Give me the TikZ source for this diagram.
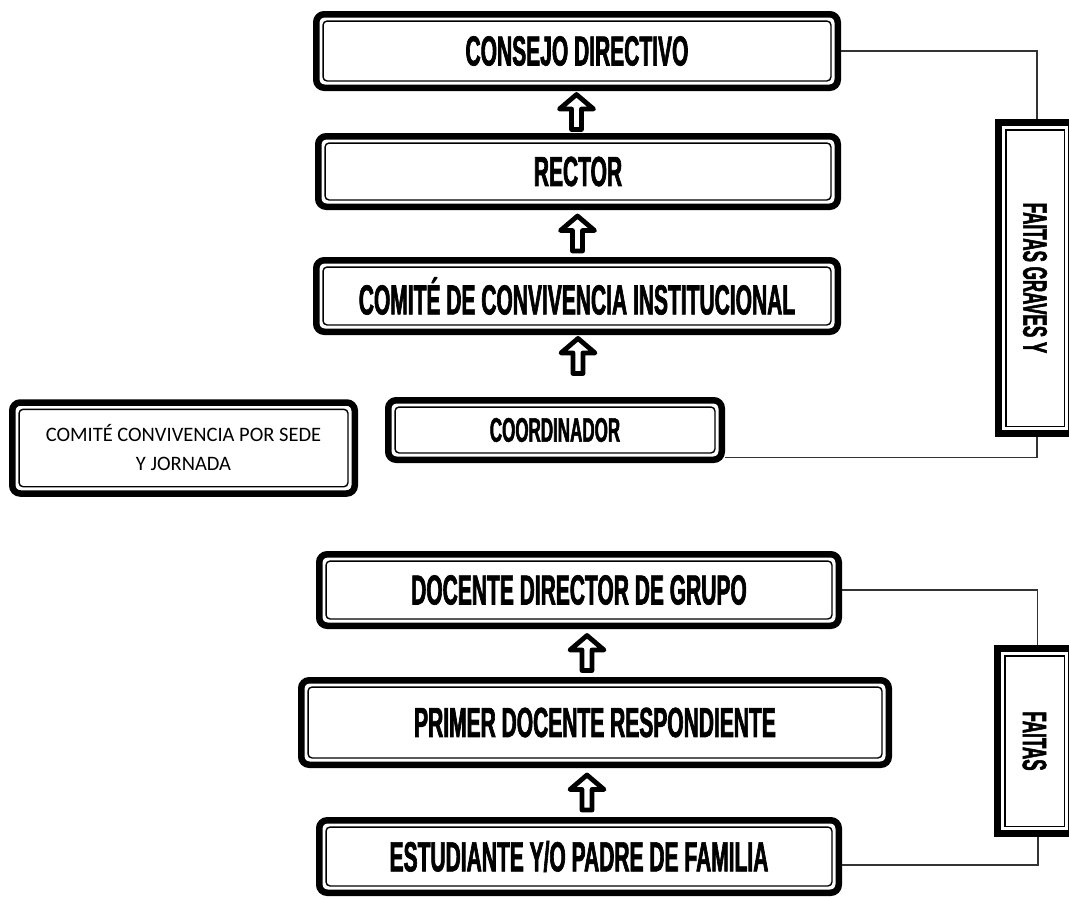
\documentclass[tikz,border=0pt]{standalone}
\usepackage{fontspec}
\usetikzlibrary{calc}
\newfontfamily\agency{Liberation Sans}[FakeStretch=0.5,FakeBold=1.5]
\newfontfamily\calib{Carlito}
\newcommand{\bigtxt}{\agency\bfseries\fontsize{42}{48}\selectfont}
\newcommand{\midtxt}{\agency\bfseries\fontsize{34}{40}\selectfont}
\newcommand{\sidetxt}{\agency\bfseries\fontsize{34}{40}\selectfont}
\begin{document}
\begin{tikzpicture}[x=1pt,y=1pt,
  rbox/.style={draw, line width=6.5pt, rounded corners=8pt, outer sep=0pt, inner sep=0pt, fill=white, align=center, font=\bigtxt},
  sbox/.style={draw, line width=7pt, outer sep=0pt, inner sep=0pt, fill=white},
  innerline/.style={line width=1.4pt, rounded corners=4pt},
  conn/.style={draw=black!80, line width=1.3pt},
  uparrow/.pic={\draw[line width=4.8pt, line join=round, fill=white]
     (0,17.5) -- (17,3) -- (5,3) -- (5,-17.5) -- (-5,-17.5) -- (-5,3) -- (-17,3) -- cycle;}
]
\useasboundingbox (0,0) rectangle (1069,-898);
\fill[white] (0,0) rectangle (1069,-898);

% main boxes
\node[rbox, minimum width=521.5pt, minimum height=73.5pt] (consejo) at (577,-51) {CONSEJO DIRECTIVO};
\node[rbox, minimum width=519.5pt, minimum height=70.5pt] (rector) at (578,-171.5) {RECTOR};
\node[rbox, minimum width=521.5pt, minimum height=71.5pt] (comite) at (577,-296) {COMITÉ DE CONVIVENCIA INSTITUCIONAL};
\node[rbox, minimum width=333.5pt, minimum height=59.5pt, font=\midtxt] (coord) at (555,-430) {COORDINADOR};
\node[rbox, minimum width=342.5pt, minimum height=91pt, font=\calib\fontsize{20.5}{29}\selectfont] (sede) at (183.5,-448) {COMITÉ CONVIVENCIA POR SEDE\\ Y JORNADA};
\node[rbox, minimum width=519.5pt, minimum height=71.5pt] (docente) at (579,-590) {DOCENTE DIRECTOR DE GRUPO};
\node[rbox, minimum width=587.5pt, minimum height=84.5pt] (primer) at (595,-722.5) {PRIMER DOCENTE RESPONDIENTE};
\node[rbox, minimum width=519.5pt, minimum height=72.5pt] (estud) at (579,-856.5) {ESTUDIANTE Y/O PADRE DE FAMILIA};

\foreach \n in {consejo,rector,comite,coord,sede,docente,primer,estud}
  \draw[innerline] ([shift={(6.8,-6.8)}]\n.north west) rectangle ([shift={(-6.8,6.8)}]\n.south east);

% side boxes
\node[sbox, minimum width=73pt, minimum height=311pt] (graves) at (1035,-278) {\rotatebox{-90}{\sidetxt FAITAS GRAVES Y}};
\node[sbox, minimum width=74pt, minimum height=185pt] (faltas) at (1034.5,-741) {\rotatebox{-90}{\sidetxt FAITAS}};
\foreach \n in {graves,faltas}
  \draw[line width=1.4pt] ([shift={(7.3,-7.3)}]\n.north west) rectangle ([shift={(-7.3,7.3)}]\n.south east);

% connectors
\draw[conn] ([xshift=3pt]consejo.east) -| ([xshift=2pt,yshift=3.5pt]graves.north);
\draw[conn] ([shift={(3pt,2.5pt)}]coord.south east) -| ([xshift=2pt,yshift=-3.5pt]graves.south);
\draw[conn] ([xshift=3pt]docente.east) -| ([xshift=3pt,yshift=3.5pt]faltas.north);
\draw[conn] ([shift={(3pt,-8.5pt)}]estud.east) -| ([xshift=3.5pt,yshift=-3.5pt]faltas.south);

% block arrows
\pic at ($(consejo.south)!0.5!(rector.north)+(-1,0)$) {uparrow};
\pic at ($(rector.south)!0.5!(comite.north)$) {uparrow};
\pic at ($(comite.south)+(1,-24.2)$) {uparrow};
\pic at ($(docente.south)!0.5!(primer.north)$) {uparrow};
\pic at ($(primer.south)!0.5!(estud.north)$) {uparrow};
\end{tikzpicture}
\end{document}
